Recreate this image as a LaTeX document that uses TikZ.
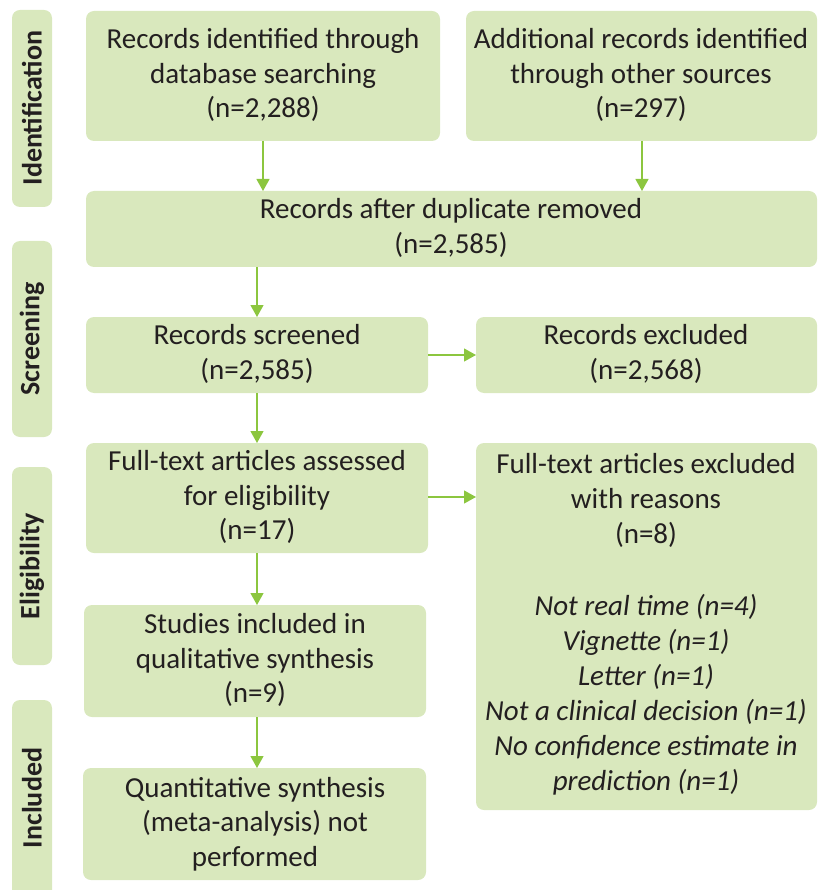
\documentclass[tikz,border=0pt]{standalone}
\usepackage{fontspec}
\setmainfont{Carlito}
\usetikzlibrary{arrows.meta}
\definecolor{boxfill}{HTML}{D9E8BD}
\definecolor{arrowc}{HTML}{8CC63F}
\definecolor{txt}{HTML}{231F20}
\begin{document}
\begin{tikzpicture}[x=1pt,y=-1pt,
  box/.style={fill=boxfill,rounded corners=8pt,inner sep=0pt},
  side/.style={fill=boxfill,rounded corners=8pt},
  lbl/.style={text=txt,font=\fontsize{29}{34.5}\selectfont,align=center,inner sep=0pt},
  sidelbl/.style={text=txt,font=\fontsize{28}{30}\selectfont\bfseries,rotate=90,inner sep=0pt},
  arr/.style={draw=arrowc,line width=1.2pt,-{Triangle[length=12pt,width=13pt]}}]
\useasboundingbox (0,0) rectangle (825,890);
% side labels
\fill[side] (12,10) rectangle (52,207);
\node[sidelbl] (sid) at (32,108) {Identification};
\fill[side] (12,241) rectangle (52,437);
\node[sidelbl] (ssc) at (32,339) {Screening};
\fill[side] (12,467) rectangle (52,665);
\node[sidelbl] (sel) at (32,566) {Eligibility};
\fill[side] (12,700) rectangle (52,900);
\node[sidelbl] (sin) at (32,798) {Included};
% boxes
\fill[box] (86,11) rectangle (440,141);
\coordinate (b1) at (263,141);
\node[lbl] (t1) at (263,75) {Records identified through\\database searching\\(n=2,288)};
\fill[box] (466,11) rectangle (817,141);
\coordinate (b2) at (642,141);
\node[lbl] (t2) at (641,75) {Additional records identified\\through other sources\\(n=297)};
\fill[box] (86,191) rectangle (817,267);
\coordinate (b3tl) at (263,191);
\coordinate (b3tr) at (642,191);
\coordinate (b3b) at (257,267);
\node[lbl] (t3) at (451,228) {Records after duplicate removed\\(n=2,585)};
\fill[box] (86,317) rectangle (428,393);
\coordinate (b4t) at (257,317);
\coordinate (b4b) at (257,393);
\coordinate (b4r) at (428,355);
\node[lbl] (t4) at (257,354) {Records screened\\(n=2,585)};
\fill[box] (476,317) rectangle (817,393);
\coordinate (b5l) at (476,355);
\node[lbl] (t5) at (646,354) {Records excluded\\(n=2,568)};
\fill[box] (86,443) rectangle (428,553);
\coordinate (b6t) at (257,443);
\coordinate (b6b) at (257,553);
\coordinate (b6r) at (428,497);
\node[lbl] (t6) at (257,497) {Full-text articles assessed\\for eligibility\\(n=17)};
\fill[box] (476,443) rectangle (817,810);
\coordinate (b7l) at (476,497);
\node[lbl,anchor=north,font=\fontsize{29}{35}\selectfont] (t7) at (646,453) {Full-text articles excluded\\with reasons\\(n=8)\\[37pt]
\itshape Not real time (n=4)\\\itshape Vignette (n=1)\\\itshape Letter (n=1)\\\itshape Not a clinical decision (n=1)\\\itshape No confidence estimate in\\\itshape prediction (n=1)};
\fill[box] (84,605) rectangle (426,717);
\coordinate (b8t) at (257,605);
\coordinate (b8b) at (257,717);
\node[lbl] (t8) at (255,660) {Studies included in\\qualitative synthesis\\(n=9)};
\fill[box] (83,768) rectangle (426,880);
\coordinate (b9t) at (257,768);
\node[lbl] (t9) at (255,824) {Quantitative synthesis\\(meta-analysis) not\\performed};
% arrows
\draw[arr] (b1) -- (b3tl);
\draw[arr] (b2) -- (b3tr);
\draw[arr] (b3b) -- (b4t);
\draw[arr] (b4r) -- (b5l);
\draw[arr] (b4b) -- (b6t);
\draw[arr] (b6r) -- (b7l);
\draw[arr] (b6b) -- (b8t);
\draw[arr] (b8b) -- (b9t);
\end{tikzpicture}
\end{document}
